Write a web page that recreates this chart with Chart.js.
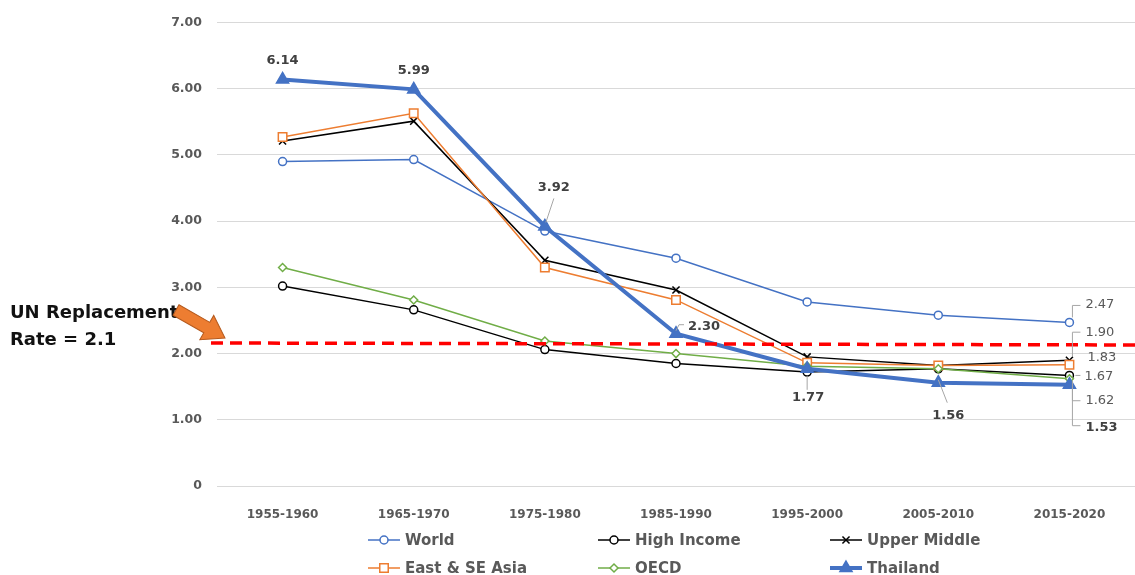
<!DOCTYPE html>
<html>
<head>
<meta charset="utf-8">
<script src="https://cdn.jsdelivr.net/npm/chart.js@4.4.0/dist/chart.umd.min.js"></script>
<style>
  html, body { margin: 0; padding: 0; background: #fff; }
  #wrap { width: 1135px; height: 575px; position: relative; }
</style>
</head>
<body>
<div id="wrap"><canvas id="tfrChart"></canvas></div>
<script>
// === Data (total fertility rate) ===
const periods = ['1955-1960', '1965-1970', '1975-1980', '1985-1990', '1995-2000', '2005-2010', '2015-2020'];
const world       = [4.90, 4.93, 3.85, 3.44, 2.78, 2.58, 2.47];
const highIncome  = [3.02, 2.66, 2.06, 1.85, 1.72, 1.77, 1.67];
const upperMiddle = [5.21, 5.51, 3.41, 2.96, 1.95, 1.82, 1.90];
const eastSEAsia  = [5.27, 5.63, 3.30, 2.81, 1.86, 1.82, 1.83];
const oecd        = [3.30, 2.81, 2.19, 2.00, 1.81, 1.77, 1.62];
const thailand    = [6.14, 5.99, 3.92, 2.30, 1.77, 1.56, 1.53];
const yMin = 0, yMax = 7, yStep = 1;
const replacementLine = [2.16, 2.13]; // red dashed line, left / right end as drawn
const noteLines = ['UN Replacement', 'Rate = 2.1'];

const FONT = "'DejaVu Sans', 'Liberation Sans', sans-serif";
const GREY = '#595959';

// === Label placement (offsets from the point, in px) ===
const labelSpots = {
    'Thailand': [
        { i: 0, dx: 0, dy: -19, align: 'center', bold: true },
        { i: 1, dx: 0, dy: -19, align: 'center', bold: true },
        { i: 2, dx: 9, dy: -39, align: 'center', bold: true, leader: [[1, -4], [9, -28]] },
        { i: 3, dx: 12, dy: -7, align: 'left', bold: true, leader: [[0, -3], [3, -9], [8, -9]] },
        { i: 4, dx: 1, dy: 29, align: 'center', bold: true, leader: [[0, 7], [0, 21]] },
        { i: 5, dx: 10, dy: 33, align: 'center', bold: true, leader: [[0, -3], [9, 20]] },
        { i: 6, dx: 16, dy: 43, align: 'left', bold: true, leader: [[3, 3], [3, 41], [11, 41]] }
    ],
    'World':          [{ i: 6, dx: 16, dy: -18, align: 'left', leader: [[3, -5], [3, -17], [11, -17]] }],
    'Upper Middle':   [{ i: 6, dx: 16, dy: -28, align: 'left', leader: [[3, -4], [3, -28], [11, -28]] }],
    'East & SE Asia': [{ i: 6, dx: 18, dy: -7, align: 'left' }],
    'High Income':    [{ i: 6, dx: 15, dy: 1, align: 'left', leader: [[6, 0], [11, 0]] }],
    'OECD':           [{ i: 6, dx: 16, dy: 22, align: 'left', leader: [[3, 2], [3, 22], [11, 22]] }]
};

function series(label, data, color, style, radius, width, fill, order) {
    return {
        label: label,
        data: data,
        borderColor: color,
        backgroundColor: color,
        borderWidth: width,
        pointStyle: style,
        pointRadius: radius,
        pointHoverRadius: radius,
        pointBackgroundColor: fill,
        pointBorderColor: color,
        pointBorderWidth: 1.5,
        tension: 0,
        fill: false,
        order: order
    };
}

// === Red dashed replacement line ===
const replacementPlugin = {
    id: 'replacement',
    afterDatasetsDraw(chart) {
        const { ctx, chartArea, scales } = chart;
        const y1 = scales.y.getPixelForValue(replacementLine[0]);
        const y2 = scales.y.getPixelForValue(replacementLine[1]);
        ctx.save();
        ctx.strokeStyle = '#FF0000';
        ctx.lineWidth = 3.5;
        ctx.setLineDash([12, 7]);
        ctx.beginPath();
        ctx.moveTo(chartArea.left - 6, y1);
        ctx.lineTo(chartArea.right, y2);
        ctx.stroke();
        ctx.restore();
    }
};

// === Value labels with leader lines ===
const labelPlugin = {
    id: 'valueLabels',
    afterDatasetsDraw(chart) {
        const ctx = chart.ctx;
        chart.data.datasets.forEach((ds, di) => {
            const spots = labelSpots[ds.label] || [];
            const meta = chart.getDatasetMeta(di);
            spots.forEach(s => {
                const pt = meta.data[s.i];
                if (!pt) return;
                ctx.save();
                if (s.leader) {
                    ctx.strokeStyle = '#A6A6A6';
                    ctx.lineWidth = 1;
                    ctx.beginPath();
                    s.leader.forEach((p, k) => {
                        if (k === 0) ctx.moveTo(pt.x + p[0], pt.y + p[1]);
                        else ctx.lineTo(pt.x + p[0], pt.y + p[1]);
                    });
                    ctx.stroke();
                }
                ctx.font = (s.bold ? 'bold 13px ' : '13px ') + FONT;
                ctx.fillStyle = s.bold ? '#404040' : GREY;
                ctx.textAlign = s.align;
                ctx.textBaseline = 'middle';
                ctx.fillText(ds.data[s.i].toFixed(2), pt.x + s.dx, pt.y + s.dy);
                ctx.restore();
            });
        });
    }
};

// === Legend (3 columns) + note with arrow ===
const legendCols = [368, 598, 830];
const legendRows = [540, 568];

function marker(ctx, ds, x, y) {
    ctx.fillStyle = ds.pointBackgroundColor;
    ctx.strokeStyle = ds.pointBorderColor;
    ctx.lineWidth = ds.pointBorderWidth;
    const opts = { pointStyle: ds.pointStyle, radius: ds.pointRadius, rotation: 0, borderWidth: ds.pointBorderWidth };
    if (Chart.helpers && Chart.helpers.drawPoint) {
        Chart.helpers.drawPoint(ctx, opts, x, y);
    } else {
        ctx.beginPath();
        ctx.arc(x, y, ds.pointRadius, 0, Math.PI * 2);
        ctx.fill();
        ctx.stroke();
    }
}

const legendPlugin = {
    id: 'gridLegend',
    afterDraw(chart) {
        const ctx = chart.ctx;
        chart.data.datasets.forEach((ds, i) => {
            const x = legendCols[i % 3];
            const y = legendRows[Math.floor(i / 3)];
            ctx.save();
            ctx.strokeStyle = ds.borderColor;
            ctx.lineWidth = ds.borderWidth;
            ctx.beginPath();
            ctx.moveTo(x, y);
            ctx.lineTo(x + 32, y);
            ctx.stroke();
            marker(ctx, ds, x + 16, y);
            ctx.font = 'bold 15px ' + FONT;
            ctx.fillStyle = GREY;
            ctx.textAlign = 'left';
            ctx.textBaseline = 'middle';
            ctx.fillText(ds.label, x + 37, y + 1);
            ctx.restore();
        });

        // note text
        ctx.save();
        ctx.font = 'bold 18px ' + FONT;
        ctx.fillStyle = '#111';
        ctx.textAlign = 'left';
        ctx.textBaseline = 'middle';
        ctx.fillText(noteLines[0], 10, 313);
        ctx.fillText(noteLines[1], 10, 340);

        // orange block arrow
        const tail = { x: 176, y: 310 }, tip = { x: 225, y: 338 };
        const ang = Math.atan2(tip.y - tail.y, tip.x - tail.x);
        const len = Math.hypot(tip.x - tail.x, tip.y - tail.y);
        ctx.translate(tail.x, tail.y);
        ctx.rotate(ang);
        const sw = 6, hw = 14, hl = 21;
        ctx.beginPath();
        ctx.moveTo(0, -sw);
        ctx.lineTo(len - hl, -sw);
        ctx.lineTo(len - hl, -hw);
        ctx.lineTo(len, 0);
        ctx.lineTo(len - hl, hw);
        ctx.lineTo(len - hl, sw);
        ctx.lineTo(0, sw);
        ctx.closePath();
        ctx.fillStyle = '#ED7D31';
        ctx.fill();
        ctx.strokeStyle = '#B55A1E';
        ctx.lineWidth = 1;
        ctx.stroke();
        ctx.restore();
    }
};

new Chart(document.getElementById('tfrChart'), {
    type: 'line',
    data: {
        labels: periods,
        datasets: [
            series('World', world, '#4472C4', 'circle', 4, 1.5, '#ffffff', 5),
            series('High Income', highIncome, '#000000', 'circle', 4, 1.5, '#ffffff', 4),
            series('Upper Middle', upperMiddle, '#000000', 'crossRot', 5, 1.5, '#000000', 3),
            series('East & SE Asia', eastSEAsia, '#ED7D31', 'rect', 6, 1.5, '#ffffff', 2),
            series('OECD', oecd, '#70AD47', 'rectRot', 4, 1.5, '#ffffff', 1),
            series('Thailand', thailand, '#4472C4', 'triangle', 7, 4, '#4472C4', 0)
        ]
    },
    options: {
        responsive: true,
        maintainAspectRatio: false,
        animation: false,
        devicePixelRatio: 1,
        layout: { autoPadding: false, padding: { top: 20, right: 0, bottom: 0, left: 0 } },
        plugins: {
            legend: { display: false },
            tooltip: { enabled: false }
        },
        scales: {
            x: {
                offset: true,
                grid: { display: false },
                border: { display: false },
                ticks: {
                    font: { family: FONT, size: 12, weight: 'bold' },
                    color: GREY,
                    padding: 14,
                    maxRotation: 0,
                    autoSkip: false
                },
                afterFit(scale) { scale.height = 89; }
            },
            y: {
                min: yMin,
                max: yMax,
                ticks: {
                    stepSize: yStep,
                    font: { family: FONT, size: 12.5, weight: 'bold' },
                    color: GREY,
                    padding: 15,
                    callback: v => v === 0 ? '0' : v.toFixed(2)
                },
                grid: { color: '#D9D9D9', lineWidth: 1, drawTicks: false },
                border: { display: false },
                afterFit(scale) { scale.width = 217; }
            }
        }
    },
    plugins: [replacementPlugin, labelPlugin, legendPlugin]
});
</script>
</body>
</html>
